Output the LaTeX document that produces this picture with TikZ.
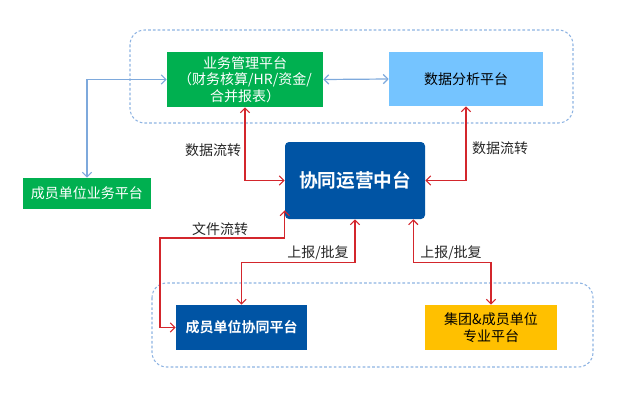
\documentclass[tikz,border=0pt]{standalone}
\usepackage{fontspec}
\setmainfont{Noto Sans CJK SC}[BoldFont={Noto Sans CJK SC Bold}]
\usepackage{tikz}
\usetikzlibrary{positioning, arrows.meta, calc}

\definecolor{bizgreen}{HTML}{00B050}
\definecolor{skyblue}{HTML}{75C4FF}
\definecolor{deepblue}{HTML}{0054A4}
\definecolor{gold}{HTML}{FFC000}
\definecolor{flowred}{HTML}{D3262C}
\definecolor{linkblue}{HTML}{7EA9DC}
\definecolor{zoneblue}{HTML}{8DB3E2}

\newcommand{\txt}{\fontsize{10.5}{12.5}\selectfont}

\begin{document}
\begin{tikzpicture}[x=0.75pt, y=-0.75pt,
    box/.style={rectangle, inner sep=2pt, align=center, font=\txt},
    lbl/.style={inner sep=1pt, font=\txt, text=black!85},
    zone/.style={draw=zoneblue, dashed, dash pattern=on 2pt off 1.6pt, line width=0.8pt, rounded corners=11pt},
    redflow/.style={draw=flowred, line width=0.9pt, {Straight Barb[length=3.5pt,width=7pt]}-{Straight Barb[length=3.5pt,width=7pt]}},
    blueflow/.style={draw=linkblue, line width=0.9pt, {Straight Barb[length=3.5pt,width=7pt]}-{Straight Barb[length=3.5pt,width=7pt]}}]
    \useasboundingbox (0,0) rectangle (636,393);

    \draw[zone] (130,30) rectangle (573,123);
    \draw[zone] (152,283) rectangle (593,367);

    \node[box, fill=bizgreen, text=white, minimum width=117pt, minimum height=41.25pt] (biz) at (245,79.5) {业务管理平台\\（财务核算/HR/资金/\\合并报表）};
    \node[box, fill=skyblue, text=black, minimum width=115.5pt, minimum height=40.5pt] (ana) at (466,79) {数据分析平台};
    \node[box, fill=bizgreen, text=white, minimum width=96pt, minimum height=23.25pt] (mem) at (87,193.5) {成员单位业务平台};
    \node[box, fill=deepblue, text=white, rounded corners=3pt, minimum width=105pt, minimum height=57.75pt, font=\fontsize{14}{16}\selectfont\bfseries] (hub) at (355,180.5) {协同运营中台};
    \node[box, fill=deepblue, text=white, minimum width=98.25pt, minimum height=33.75pt, font=\txt\bfseries] (coop) at (241.5,327.5) {成员单位协同平台};
    \node[box, fill=gold, text=black, minimum width=99pt, minimum height=33.75pt] (grp) at (491,327.5) {集团\&成员单位\\专业平台};

    \node[lbl] (dataL) at (213,150) {数据流转};
    \node[lbl] (dataR) at (500,148) {数据流转};
    \node[lbl] (fileL) at (220,229) {文件流转};
    \node[lbl] (rptL) at (318,253) {上报/批复};
    \node[lbl] (rptR) at (451,253) {上报/批复};

    \coordinate (filebend) at (160,238);
    \coordinate (hubcorner) at ([yshift=6.75pt]hub.south west);

    \draw[blueflow] (mem.north) |- (biz.west);
    \draw[blueflow] (biz.east) -- (ana.west);

    \draw[redflow] (biz.south) |- (hub.west);
    \draw[redflow] (ana.south) |- (hub.east);
    \draw[redflow] (coop.west) -| (filebend) -| (hubcorner);
    \draw[redflow] (hub.south) -- ++(0,43) -| (coop.north);
    \draw[redflow] ([xshift=-9pt]hub.south east) -- ++(0,43) -| (grp.north);
\end{tikzpicture}
\end{document}
